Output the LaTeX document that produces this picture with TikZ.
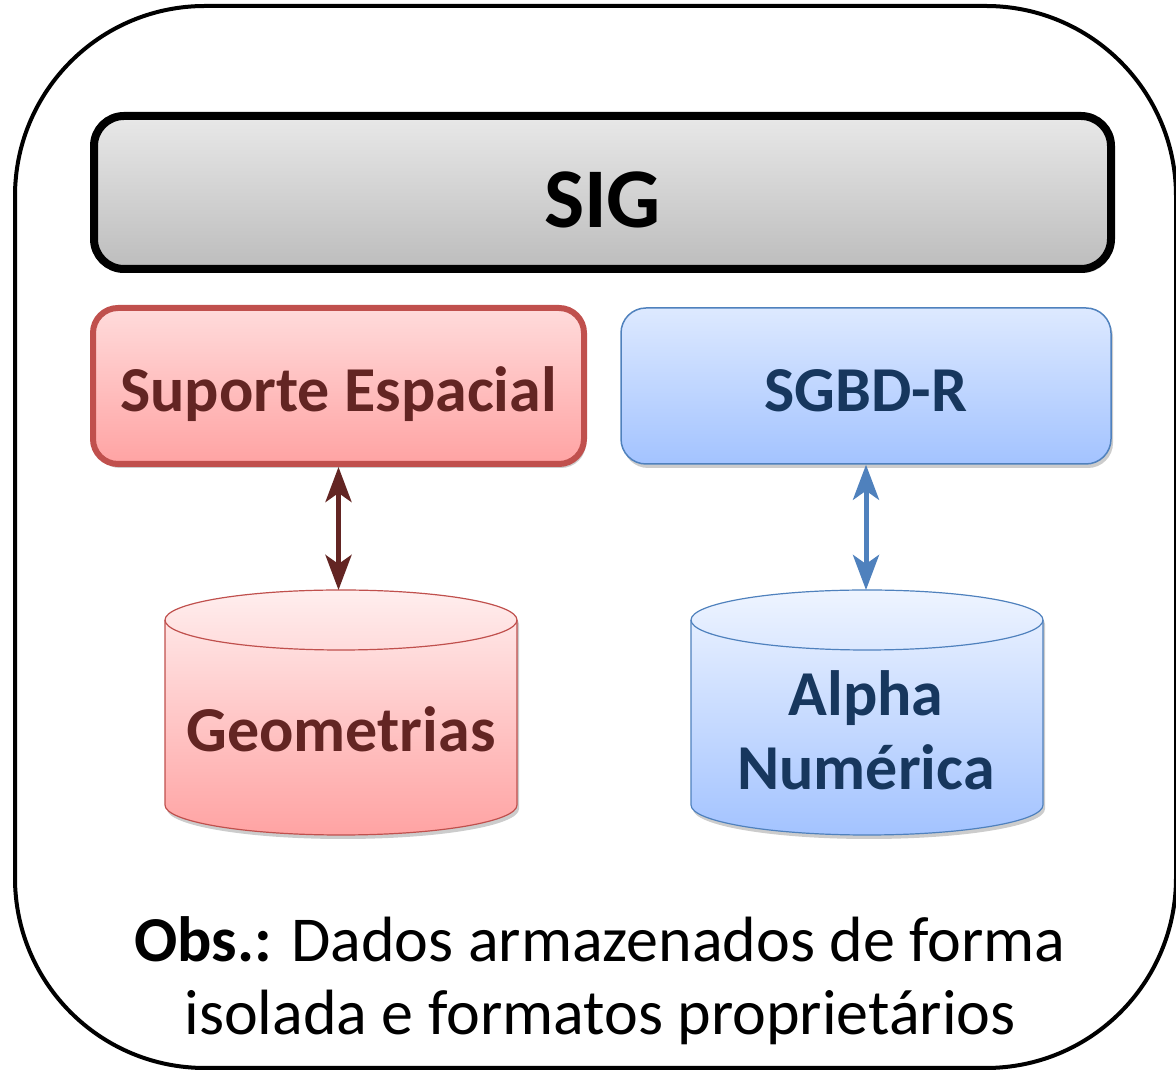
\documentclass[tikz,border=0pt]{standalone}
\usepackage{fontspec}
\setmainfont{Carlito}
\usepackage{tikz}
\usetikzlibrary{arrows.meta}
\usetikzlibrary{shadows}
\definecolor{redline}{HTML}{C0504D}
\definecolor{redtext}{HTML}{632523}
\definecolor{blueline}{HTML}{4F81BD}
\definecolor{bluetext}{HTML}{17375E}
\definecolor{redtop}{HTML}{FFDBDB}
\definecolor{redbot}{HTML}{FFA3A3}
\definecolor{redctop}{HTML}{FFEEEE}
\definecolor{bluetop}{HTML}{DDE9FF}
\definecolor{bluebot}{HTML}{A3C3FF}
\definecolor{bluectop}{HTML}{EEF4FF}
\tikzset{
 boxshadow/.style={drop shadow={shadow xshift=2pt,shadow yshift=-4pt,opacity=0.2,fill=black}},
 bigfont/.style={font=\fontsize{64}{74}\selectfont\bfseries},
 rbox/.style={draw=redline,line width=6pt,rounded corners=25pt,top color=redtop,bottom color=redbot,
   text=redtext,bigfont,minimum width=491pt,minimum height=156pt,inner sep=0pt,text height=52pt,text depth=0pt,boxshadow},
 bbox/.style={draw=blueline,line width=1.5pt,rounded corners=25pt,top color=bluetop,bottom color=bluebot,
   text=bluetext,bigfont,minimum width=490pt,minimum height=156pt,inner sep=0pt,text height=52pt,text depth=0pt,boxshadow},
 dbarrow/.style={{Stealth[length=35pt,width=26pt,inset=9pt]}-{Stealth[length=35pt,width=26pt,inset=9pt]},line width=5pt}
}
\begin{document}
\begin{tikzpicture}[x=1pt,y=1pt]
\useasboundingbox (0,0) rectangle (1176,1071);
\draw [line width=4pt,rounded corners=190pt] (15,3) rectangle (1176,1065);
\node (B0) at (602.5,878.5) [draw=black,line width=8pt,rounded corners=30pt,top color=black!9,bottom color=black!26,
  font=\fontsize{85}{85}\selectfont\bfseries,minimum width=1017pt,minimum height=153pt,inner sep=0pt,
  text height=71pt,text depth=0pt,boxshadow] {SIG};
\node (B1) at (338.5,685) [rbox] {Suporte Espacial};
\node (B2) at (866,685) [bbox] {SGBD-R};
\path [draw=redline,line width=1.2pt,top color=redctop,bottom color=redbot,boxshadow]
  (165,451) -- (165,266) arc [start angle=180,end angle=360,x radius=176,y radius=30]
  -- (517,451) arc [start angle=0,end angle=180,x radius=176,y radius=30] -- cycle;
\draw [redline,line width=1.2pt] (165,451) arc [start angle=180,end angle=360,x radius=176,y radius=30];
\path [draw=blueline,line width=1.2pt,top color=bluectop,bottom color=bluebot,boxshadow]
  (691,451) -- (691,266) arc [start angle=180,end angle=360,x radius=176,y radius=30]
  -- (1043,451) arc [start angle=0,end angle=180,x radius=176,y radius=30] -- cycle;
\draw [blueline,line width=1.2pt] (691,451) arc [start angle=180,end angle=360,x radius=176,y radius=30];
\coordinate (C1) at (341,481);
\coordinate (C2) at (867,481);
\node (D1) at (341,319) [anchor=base,text=redtext,bigfont] {Geometrias};
\node (D2) at (866,281) [anchor=base,align=center,text=bluetext,bigfont] {Alpha\\Numérica};
\node (T0) at (600,36) [anchor=base,align=center,font=\fontsize{64}{73}\selectfont] {\textbf{Obs.:} Dados armazenados de forma\\isolada e formatos proprietários};
\draw [dbarrow,redtext] (B1.south) -- (B1.south |- C1);
\draw [dbarrow,blueline] (B2.south) -- (B2.south |- C2);
\end{tikzpicture}
\end{document}
